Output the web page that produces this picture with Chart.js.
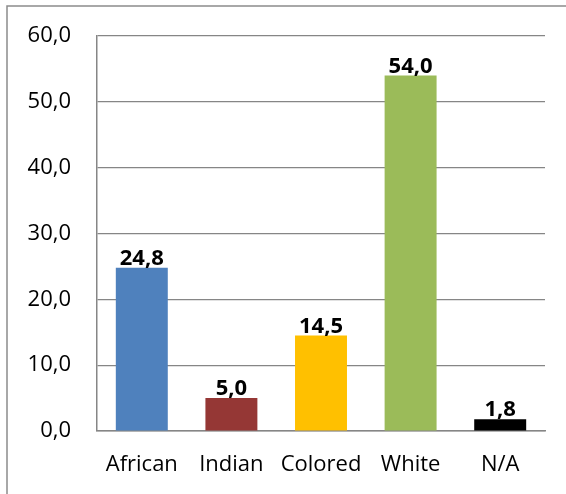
<!DOCTYPE html>
<html>
<head>
<meta charset="utf-8">
<script src="https://cdn.jsdelivr.net/npm/chart.js@4/dist/chart.umd.min.js"></script>
<style>
  html, body { margin: 0; padding: 0; background: #fff; }
  #wrap { width: 566px; height: 494px; position: relative; }
</style>
</head>
<body>
<div id="wrap"><canvas id="chart"></canvas></div>
<script>
const categories = ["African", "Indian", "Colored", "White", "N/A"];
const shares = [24.8, 5.0, 14.5, 54.0, 1.8];
const barColors = ["#4F81BD", "#953735", "#FFC000", "#9BBB59", "#000000"];
const yTicks = [0, 10, 20, 30, 40, 50, 60];

const FONT = "'Open Sans', 'Liberation Sans', sans-serif";
const fmt = (v) => v.toFixed(1).replace(".", ",");

// frame around the whole chart (only top/left edges fall inside the canvas)
const framePlugin = {
  id: "frame",
  beforeDraw(chart) {
    const ctx = chart.ctx;
    ctx.save();
    ctx.fillStyle = "#fff";
    ctx.fillRect(0, 0, chart.width, chart.height);
    ctx.strokeStyle = "#8c8c8c";
    ctx.lineWidth = 1.5;
    ctx.beginPath();
    ctx.moveTo(7, chart.height);
    ctx.lineTo(7, 6);
    ctx.lineTo(chart.width, 6);
    ctx.stroke();
    ctx.restore();
  }
};

// value labels above each bar
const valueLabels = {
  id: "valueLabels",
  afterDatasetsDraw(chart) {
    const ctx = chart.ctx;
    const meta = chart.getDatasetMeta(0);
    ctx.save();
    ctx.font = "bold 22px " + FONT;
    ctx.fillStyle = "#000";
    ctx.textAlign = "center";
    ctx.textBaseline = "alphabetic";
    meta.data.forEach((bar, i) => {
      ctx.fillText(fmt(shares[i]), bar.x, bar.y - 3);
    });
    ctx.restore();
  }
};

new Chart(document.getElementById("chart").getContext("2d"), {
  type: "bar",
  data: {
    labels: categories,
    datasets: [{
      data: shares,
      backgroundColor: barColors,
      borderWidth: 0,
      barPercentage: 0.58,
      categoryPercentage: 1.0
    }]
  },
  options: {
    responsive: true,
    maintainAspectRatio: false,
    animation: false,
    layout: { padding: { left: 0, top: 36, right: 21, bottom: 0 } },
    plugins: { legend: { display: false }, tooltip: { enabled: false } },
    scales: {
      x: {
        grid: { display: false, drawTicks: false },
        border: { color: "#868686", width: 1.5 },
        ticks: { color: "#000", font: { family: FONT, size: 22 }, padding: 21 },
        afterFit(scale) { scale.height = 63; }
      },
      y: {
        min: 0,
        max: 60,
        afterBuildTicks(scale) { scale.ticks = yTicks.map(v => ({ value: v })); },
        grid: { color: "#868686", lineWidth: 1.2, drawTicks: false },
        border: { color: "#868686", width: 1.5 },
        ticks: {
          color: "#000",
          font: { family: FONT, size: 22 },
          padding: 26,
          callback: (v) => fmt(v)
        },
        afterFit(scale) {
          scale.width = 97;
          scale.paddingTop = 0;
          scale.paddingBottom = 0;
        }
      }
    }
  },
  plugins: [framePlugin, valueLabels]
});
</script>
</body>
</html>
